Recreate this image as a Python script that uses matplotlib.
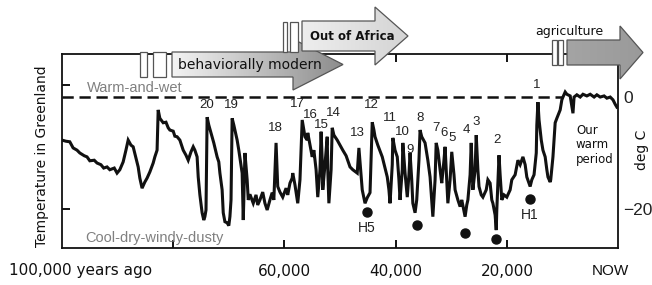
import numpy as np
import matplotlib
matplotlib.use("Agg")
import matplotlib.pyplot as plt
from matplotlib.patches import Polygon, Rectangle

# ---------------- data (thousand years ago, deg C relative) ----------------
age_kya = [100.0, 99.3, 98.6, 98.0, 97.3, 96.8, 96.0, 95.5, 95.0, 94.2, 93.7, 93.0, 92.5, 91.9,
           91.4, 90.6, 90.1, 89.6, 89.0, 88.5, 88.1, 87.6, 87.2, 86.7, 86.3, 86.0, 85.6, 85.1,
           84.7, 84.2, 83.6, 83.3, 82.9, 82.7, 82.4, 81.8, 81.3, 80.9, 80.6, 80.0, 79.7, 79.3,
           78.8, 78.2, 77.7, 77.3, 76.8, 76.4, 76.1, 75.7, 75.5, 75.2, 74.8, 74.5, 74.3, 74.1,
           73.9, 73.6, 73.0, 72.7, 72.1, 71.8, 71.6, 71.2, 71.0, 70.7, 70.3, 70.0, 69.8, 69.6,
           69.4, 69.1, 68.5, 68.2, 67.6, 67.4, 67.3, 67.1, 66.7, 66.5, 66.2, 65.6, 65.1, 64.8,
           64.4, 63.9, 63.5, 63.1, 62.6, 62.2, 61.9, 61.5, 61.2, 60.8, 60.3, 59.7, 59.4, 59.0,
           58.6, 58.5, 58.1, 57.6, 57.2, 56.8, 56.5, 56.3, 55.9, 55.8, 55.4, 55.0, 54.7, 54.3,
           54.0, 53.6, 53.4, 53.2, 53.1, 52.7, 52.3, 52.2, 52.0, 51.6, 51.4, 51.1, 50.5, 50.0,
           49.5, 48.9, 48.2, 47.7, 46.9, 46.6, 46.2, 46.0, 45.5, 45.1, 44.6, 44.2, 43.9, 43.7,
           43.2, 42.4, 41.9, 41.5, 41.2, 41.0, 40.6, 40.5, 40.1, 39.7, 39.4, 39.2, 38.8, 38.7,
           38.3, 37.9, 37.6, 37.4, 37.1, 36.9, 36.5, 36.2, 35.8, 35.6, 35.3, 34.7, 34.2, 33.8,
           33.5, 33.3, 32.9, 32.7, 32.4, 32.0, 31.7, 31.3, 31.1, 30.8, 30.6, 30.2, 29.9, 29.5,
           29.3, 28.8, 28.4, 28.1, 27.5, 27.2, 27.0, 26.6, 26.4, 26.1, 25.7, 25.5, 25.2, 25.0,
           24.6, 24.3, 23.7, 23.4, 23.0, 22.7, 22.5, 22.1, 21.9, 21.8, 21.4, 21.2, 20.9, 20.5,
           20.0, 19.4, 19.1, 18.5, 18.0, 17.6, 17.1, 16.7, 16.4, 15.8, 15.5, 15.1, 14.7, 14.6,
           14.4, 14.2, 13.8, 13.5, 13.1, 12.8, 12.6, 12.2, 12.1, 11.7, 11.3, 11.0, 10.4, 10.1,
           9.9, 9.5, 9.2, 8.6, 8.1, 7.9, 7.4, 6.8, 6.3, 5.6, 5.0, 4.3, 3.8, 3.2, 2.5, 2.0, 1.4,
           0.9, 0.5, 0.2]
temp_c = [-7.7, -7.9, -8.0, -9.1, -9.5, -10.0, -10.5, -10.7, -11.4, -11.3, -11.8, -12.1, -12.7, -12.5,
          -13.0, -12.7, -13.6, -13.0, -11.6, -9.5, -7.7, -8.6, -8.9, -10.9, -12.5, -14.5, -16.3, -15.2,
          -14.5, -13.4, -11.8, -10.7, -9.5, -2.3, -3.8, -4.6, -4.5, -5.5, -5.9, -6.1, -7.0, -7.1,
          -7.7, -9.5, -10.4, -11.3, -9.8, -8.9, -9.5, -10.7, -14.3, -17.5, -20.7, -22.0, -21.4, -20.2,
          -3.6, -5.0, -7.1, -8.2, -10.7, -11.6, -13.6, -16.6, -20.7, -22.3, -22.5, -23.0, -21.4, -18.4,
          -3.8, -5.0, -7.7, -9.5, -13.6, -22.0, -18.4, -10.0, -14.8, -18.4, -17.4, -19.0, -17.5, -19.3,
          -18.4, -17.0, -19.0, -20.2, -18.4, -17.1, -18.4, -8.2, -16.0, -17.0, -17.9, -16.3, -17.5, -15.4,
          -14.5, -13.6, -15.7, -19.0, -14.8, -4.1, -5.9, -7.1, -7.7, -6.4, -8.6, -10.7, -9.5, -13.0,
          -17.9, -13.0, -6.2, -11.3, -16.6, -12.1, -7.1, -13.0, -19.0, -13.0, -5.5, -6.8, -7.7, -8.6,
          -9.5, -10.5, -12.5, -13.0, -13.6, -9.1, -14.1, -16.6, -19.0, -18.0, -17.1, -4.5, -5.9, -7.1,
          -8.6, -10.7, -12.7, -14.3, -16.6, -19.0, -12.1, -7.3, -9.5, -10.7, -14.8, -18.4, -13.0, -8.2,
          -13.6, -17.9, -13.9, -10.0, -14.8, -19.0, -20.7, -18.4, -11.3, -5.9, -7.1, -8.2, -11.3, -14.3,
          -18.4, -21.4, -14.8, -8.2, -9.5, -13.0, -15.4, -11.3, -8.9, -14.8, -19.0, -14.8, -9.8, -13.9,
          -16.6, -18.4, -19.6, -18.4, -21.4, -19.3, -18.4, -13.9, -8.2, -16.6, -13.0, -6.8, -13.0, -16.0,
          -17.5, -17.9, -16.6, -14.8, -15.4, -18.4, -19.0, -21.1, -23.8, -20.2, -10.4, -13.9, -18.4, -17.5,
          -17.9, -16.6, -14.8, -13.9, -11.3, -12.1, -10.7, -12.1, -14.3, -16.0, -14.8, -13.9, -10.0, -5.0,
          -0.9, -4.1, -7.7, -9.5, -10.7, -13.0, -14.3, -15.2, -14.8, -10.7, -4.6, -3.8, -2.3, -0.5,
          0.0, 0.9, 0.5, 0.2, -2.9, 0.0, 0.4, 0.0, 0.5, 0.2, 0.5, 0.0, 0.4, 0.0, 0.2, -0.2, 0.0,
          -0.5, -1.3, -1.8]

event_labels = ["20", "19", "18", "17", "16", "15", "14", "13", "12", "11",
                "10", "9", "8", "7", "6", "5", "4", "3", "2", "1"]
event_age = [73.9, 69.6, 61.7, 57.6, 55.4, 53.4, 51.1, 46.9, 44.4, 41.0,
             38.8, 37.4, 35.6, 32.7, 31.3, 29.9, 27.3, 25.5, 21.8, 14.6]
event_temp = [-1.4, -1.4, -5.5, -1.25, -3.2, -5.0, -2.9, -6.4, -1.4, -3.75,
              -6.25, -9.5, -3.75, -5.5, -6.4, -7.3, -5.9, -4.5, -7.7, 2.1]

heinrich_age = [45.1, 36.15, 27.5, 21.95, 15.8]
heinrich_temp = [-20.5, -22.9, -24.3, -25.4, -18.2]
heinrich_labels = ["H5", "", "", "", "H1"]

x_ticks = [100, 60, 40, 20, 0]
x_ticklabels = ["100,000 years ago", "60,000", "40,000", "20,000", "NOW"]
y_ticks_right = [0, -20]
y_ticklabels_right = ["0", "\u221220"]

# ---------------- figure ----------------
W, H = 652, 285
fig = plt.figure(figsize=(W / 100, H / 100), dpi=100)
fig.patch.set_facecolor("white")

L, R, T, B = 62, 618, 54, 248
ax = fig.add_axes([L / W, 1 - B / H, (R - L) / W, (B - T) / H])
ax.set_xlim(100, 0)
ax.set_ylim(-27.0, 7.7)
for s in ax.spines.values():
    s.set_linewidth(1.3)
    s.set_color("#111111")

ax.plot(age_kya, temp_c, color="#111111", lw=2.2, solid_joinstyle="miter", zorder=3)
dash, = ax.plot([100, 10.0], [0, 0], color="#111111", lw=1.8, zorder=2)
dash.set_dashes((4.5, 2.3))

ax.plot(heinrich_age, heinrich_temp, "o", color="#111111", ms=6.5, zorder=4)
for a, t, lab in zip(heinrich_age, heinrich_temp, heinrich_labels):
    if lab:
        ax.text(a, t - 2.9, lab, ha="center", va="center", fontsize=10,
                family="Liberation Sans", color="#222222")

for lab, a, t in zip(event_labels, event_age, event_temp):
    ax.text(a, t, lab, ha="center", va="center", fontsize=9.5,
            family="Liberation Sans", color="#222222", zorder=5)

# ticks
ax.set_xticks([80, 60, 40, 20])
ax.set_xticklabels([])
ax.tick_params(axis="x", direction="in", length=6, width=1.3, top=True, bottom=True)
ax.set_yticks([2.1, -20])
ax.set_yticklabels([])
ax.tick_params(axis="y", direction="in", length=6, width=1.3, left=True, right=False)

# right labels
ax2r = ax.twinx()
ax2r.set_ylim(ax.get_ylim())
ax2r.set_yticks(y_ticks_right)
ax2r.set_yticklabels(y_ticklabels_right, fontsize=12.5, family="Liberation Sans", color="#222222")
ax2r.tick_params(axis="y", length=0, pad=4)
for s in ax2r.spines.values():
    s.set_visible(False)

# ---------------- overlay in pixel coordinates ----------------
ov = fig.add_axes([0, 0, 1, 1], zorder=10)
ov.set_xlim(0, W)
ov.set_ylim(H, 0)
ov.axis("off")
ov.patch.set_visible(False)

# bottom x labels
xpix = {100: 81, 60: 284, 40: 396, 20: 507, 0: 610}
for v, lab in zip(x_ticks, x_ticklabels):
    fam = "Liberation Sans" if lab == "NOW" else "DejaVu Sans"
    ov.text(xpix[v], 271, lab, ha="center", va="center", fontsize=11, family=fam, color="#111111")

ov.text(42, 156, "Temperature in Greenland", rotation=90, ha="center", va="center",
        fontsize=10, family="DejaVu Sans", color="#111111")
ov.text(642, 150, "deg C", rotation=90, ha="center", va="center",
        fontsize=10, family="DejaVu Sans", color="#111111")

ov.text(135, 88, "Warm-and-wet", ha="center", va="center", fontsize=10.5,
        family="Liberation Sans", color="#808080")
ov.text(154, 238, "Cool-dry-windy-dusty", ha="center", va="center", fontsize=10.5,
        family="Liberation Sans", color="#808080")
for i, w in enumerate(["Our", "warm", "period"]):
    ov.text(576, 130 + 15 * i, w, ha="left", va="center", fontsize=8.5,
            family="DejaVu Sans", color="#111111")


def arrow_poly(x0, x1, xt, yc, bh, hh):
    return [(x0, yc - bh), (x1, yc - bh), (x1, yc - hh), (xt, yc),
            (x1, yc + hh), (x1, yc + bh), (x0, yc + bh)]


def gradient_arrow(pts, c0, c1, z):
    poly = Polygon(pts, closed=True, facecolor="none", edgecolor="#555555", lw=0.9, zorder=z + 0.2)
    ov.add_patch(poly)
    xs = [p[0] for p in pts]
    ys = [p[1] for p in pts]
    grad = np.linspace(0, 1, 256).reshape(1, -1)
    cm = matplotlib.colors.LinearSegmentedColormap.from_list("g", [c0, c1])
    im = ov.imshow(grad, cmap=cm, extent=(min(xs), max(xs), max(ys), min(ys)),
                   aspect="auto", zorder=z, interpolation="bilinear")
    clip = Polygon(pts, closed=True, transform=ov.transData)
    im.set_clip_path(clip)


def box(x0, x1, y0, y1, z):
    ov.add_patch(Rectangle((x0, y0), x1 - x0, y1 - y0, facecolor="white",
                           edgecolor="#555555", lw=0.9, zorder=z))


# behaviorally modern
gradient_arrow(arrow_poly(172, 293, 343, 64.5, 12.5, 25.5), "#f4f4f4", "#8c8c8c", 11)
box(140, 147, 52, 77, 11)
box(153, 166, 52, 77, 11)
ov.text(178, 65, "behaviorally modern", ha="left", va="center", fontsize=10,
        family="DejaVu Sans", color="#111111", zorder=12)
# out of africa
gradient_arrow(arrow_poly(302, 375, 408, 36, 15, 29), "#eeeeee", "#d4d4d4", 13)
box(283, 287, 22, 52, 13)
box(290, 298, 22, 52, 13)
ov.text(352, 37, "Out of Africa", ha="center", va="center", fontsize=8.5, weight="bold",
        family="DejaVu Sans", color="#111111", zorder=14)
# agriculture
gradient_arrow(arrow_poly(567, 620, 643, 52.5, 12.5, 26.5), "#a4a4a4", "#9a9a9a", 13)
box(552, 557, 40, 65, 13)
box(558, 563, 40, 65, 13)
ov.text(569, 32, "agriculture", ha="center", va="center", fontsize=9,
        family="DejaVu Sans", color="#111111", zorder=14)

fig.savefig("out.png", dpi=100, facecolor="white")
